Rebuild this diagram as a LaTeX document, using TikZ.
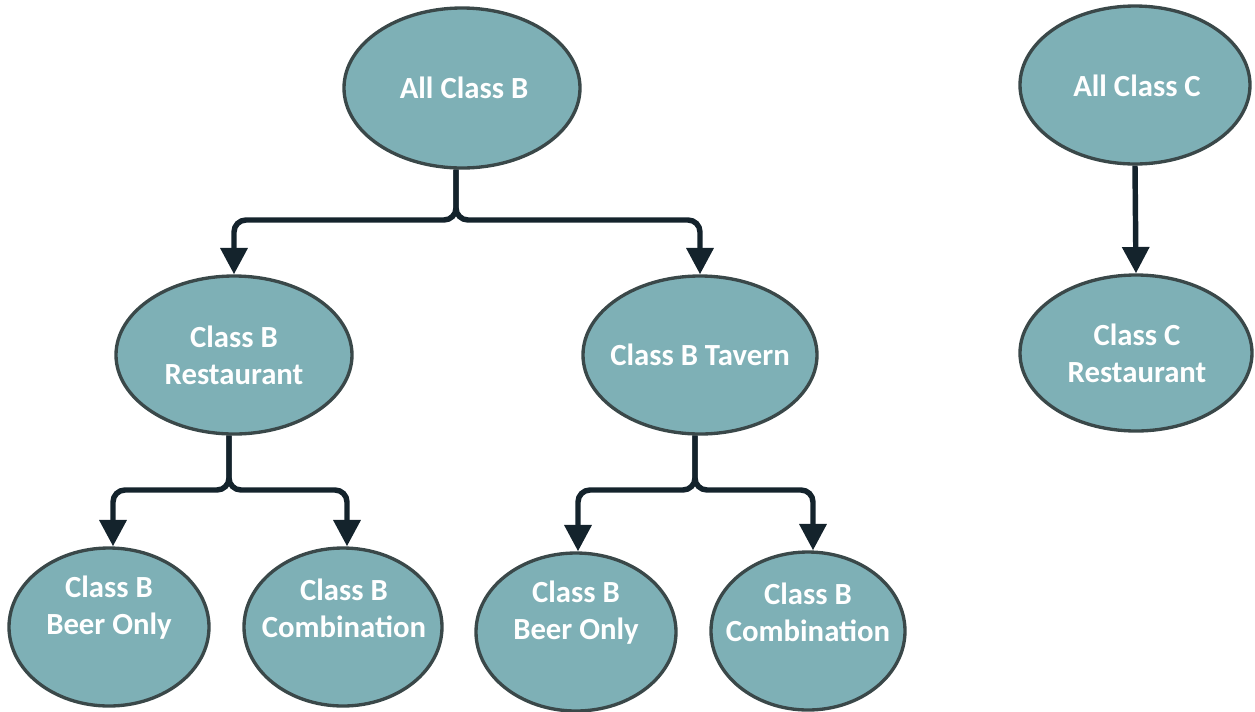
\documentclass[tikz,border=0pt]{standalone}
\usepackage{fontspec}
\setmainfont{Carlito}
\usetikzlibrary{shapes.geometric,arrows.meta}
\definecolor{nodefill}{HTML}{7EB0B6}
\definecolor{nodeline}{HTML}{3A4849}
\definecolor{connline}{HTML}{14232C}
\newlength\pxu
\setlength\pxu{0.02cm}
\tikzset{
  oval/.style={ellipse, draw=nodeline, line width=1.9pt, fill=nodefill, inner sep=0pt},
  txt/.style={text=white, font=\fontsize{17.5}{21}\selectfont\bfseries, align=center, inner sep=0pt},
  conn/.style={draw=connline, line width=3.1pt, rounded corners=6.8pt, -{Triangle[length=15pt,width=15pt]}},
}
\begin{document}
\begin{tikzpicture}[x=0.02cm,y=-0.02cm]
\useasboundingbox (0,0) rectangle (1255,711);
% ellipses
\node[oval, minimum width=236\pxu, minimum height=160\pxu] (AB) at (462,88) {};
\node[oval, minimum width=230\pxu, minimum height=158\pxu] (AC) at (1135,85) {};
\node[oval, minimum width=236\pxu, minimum height=158\pxu] (BR) at (234,355) {};
\node[oval, minimum width=234\pxu, minimum height=158\pxu] (BT) at (700,355) {};
\node[oval, minimum width=232\pxu, minimum height=156\pxu] (CR) at (1136,353) {};
\node[oval, minimum width=200\pxu, minimum height=158\pxu] (BO1) at (109,627) {};
\node[oval, minimum width=198\pxu, minimum height=158\pxu] (CO1) at (343,627) {};
\node[oval, minimum width=200\pxu, minimum height=158\pxu] (BO2) at (576,632) {};
\node[oval, minimum width=194\pxu, minimum height=158\pxu] (CO2) at (808,631) {};
% texts
\node[txt] (tAB) at (464,88) {All Class B};
\node[txt] (tAC) at (1137,86) {All Class C};
\node[txt] (tBR) at (234,355) {Class B\\Restaurant};
\node[txt] (tBT) at (700,355) {Class B Tavern};
\node[txt] (tCR) at (1137,353) {Class C\\Restaurant};
\node[txt] (tBO1) at (109,608) {Class B\\Beer Only};
\node[txt] (tCO1) at (344,608) {Class B\\Combination};
\node[txt] (tBO2) at (576,613) {Class B\\Beer Only};
\node[txt] (tCO2) at (808,612) {Class B\\Combination};
% junctions
\coordinate (jB) at (456,220);
\coordinate (jR) at (229,490);
\coordinate (jT) at (695,490);
% connectors
\draw[conn] (jB |- AB.south) -- (jB) -- (jB -| BR.north) -- (BR.north);
\draw[conn] (jB |- AB.south) -- (jB) -- (jB -| BT.north) -- (BT.north);
\draw[conn] (jR |- BR.south) -- (jR) -- (jR -| 113,0) -- (113,0 |- BO1.north);
\draw[conn] (jR |- BR.south) -- (jR) -- (jR -| 347,0) -- (347,0 |- CO1.north);
\draw[conn] (jT |- BT.south) -- (jT) -- (jT -| 578,0) -- (578,0 |- BO2.north);
\draw[conn] (jT |- BT.south) -- (jT) -- (jT -| 813,0) -- (813,0 |- CO2.north);
\draw[conn] (AC.south) -- (CR.north);
\end{tikzpicture}
\end{document}
